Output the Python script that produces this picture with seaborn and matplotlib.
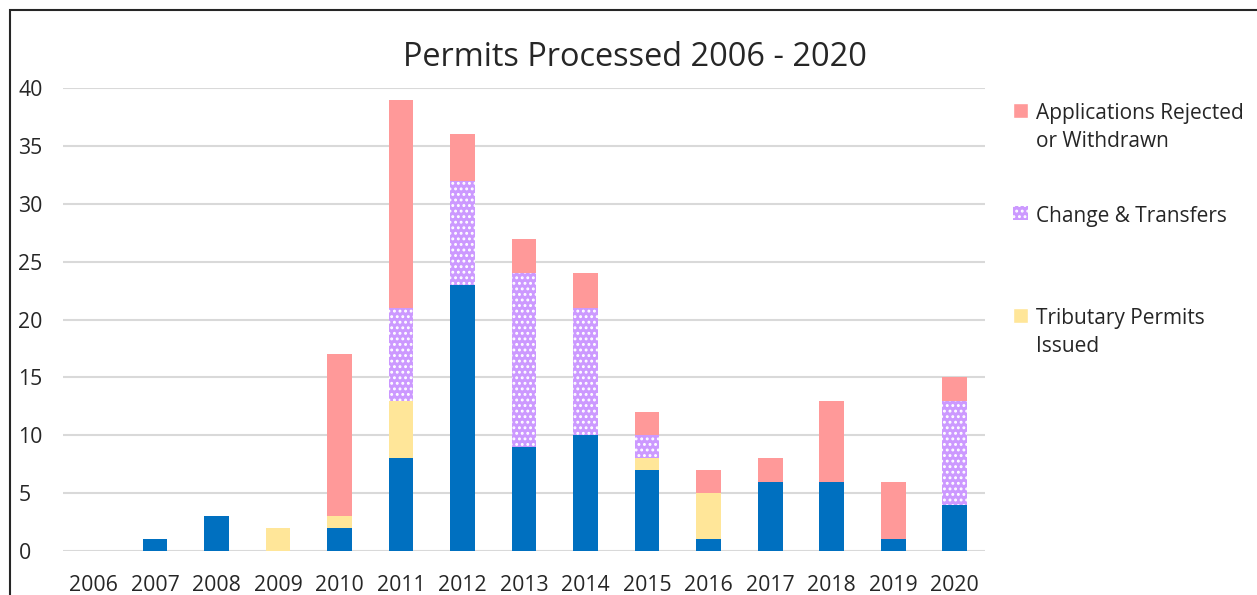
import matplotlib
matplotlib.use("Agg")
import matplotlib.pyplot as plt
import matplotlib.patches as mpatches
import numpy as np
import pandas as pd
import seaborn as sns

years = ["2006", "2007", "2008", "2009", "2010", "2011", "2012", "2013",
         "2014", "2015", "2016", "2017", "2018", "2019", "2020"]
permits_issued = [0, 1, 3, 0, 2, 8, 23, 9, 10, 7, 1, 6, 6, 1, 4]
tributary = [0, 0, 0, 2, 1, 5, 0, 0, 0, 1, 4, 0, 0, 0, 0]
change_transfers = [0, 0, 0, 0, 0, 8, 9, 15, 11, 2, 0, 0, 0, 0, 9]
rejected = [0, 0, 0, 0, 14, 18, 4, 3, 3, 2, 2, 2, 7, 5, 2]

c_blue = "#0070C0"
c_yellow = "#FFE699"
c_purple = "#CC99FF"
c_pink = "#FF9999"
c_text = "#262626"

df = pd.DataFrame({"year": years,
                   "issued": permits_issued,
                   "tributary": tributary,
                   "change": change_transfers,
                   "rejected": rejected})
# cumulative heights, drawn back to front
df["lvl1"] = df["issued"]
df["lvl2"] = df["lvl1"] + df["tributary"]
df["lvl3"] = df["lvl2"] + df["change"]
df["lvl4"] = df["lvl3"] + df["rejected"]

sns.set_style("white")
plt.rcParams["font.family"] = ["Open Sans", "DejaVu Sans"]
plt.rcParams["hatch.linewidth"] = 1.3

fig = plt.figure(figsize=(12.57, 5.95), dpi=100)
ax = fig.add_axes([0.050, 0.074, 0.734, 0.778])

w = 0.4
sns.barplot(data=df, x="year", y="lvl4", order=years, color=c_pink,
            width=w, saturation=1, linewidth=0, ax=ax)
sns.barplot(data=df, x="year", y="lvl3", order=years, color=c_purple,
            width=w, saturation=1, linewidth=0, ax=ax)
for p in ax.patches[len(years):]:
    p.set_hatch("...")
    p.set_edgecolor("white")
    p.set_linewidth(0)
sns.barplot(data=df, x="year", y="lvl2", order=years, color=c_yellow,
            width=w, saturation=1, linewidth=0, ax=ax)
sns.barplot(data=df, x="year", y="lvl1", order=years, color=c_blue,
            width=w, saturation=1, linewidth=0, ax=ax)

ax.set_xlim(-0.5, len(years) - 0.5)
ax.set_ylim(0, 40)
ax.set_yticks(range(0, 41, 5))
ax.yaxis.grid(True, color="#D9D9D9", linewidth=1.5)
ax.set_axisbelow(True)
for s in ax.spines.values():
    s.set_visible(False)
ax.set_xlabel("")
ax.set_ylabel("")
ax.tick_params(axis="both", length=0, labelsize=15.3, colors=c_text)
ax.tick_params(axis="x", pad=17)
ax.tick_params(axis="y", pad=32)
for lab in ax.get_yticklabels():
    lab.set_horizontalalignment("left")

fig.text(0.505, 0.903, "Permits Processed 2006 - 2020", ha="center", va="center",
         fontsize=23.4, color=c_text)

handles = [mpatches.Patch(facecolor=c_pink, label="Applications Rejected\nor Withdrawn"),
           mpatches.Patch(facecolor=c_purple, edgecolor="white", linewidth=0, hatch="...",
                          label="Change & Transfers\n"),
           mpatches.Patch(facecolor=c_yellow, label="Tributary Permits\nIssued")]
leg = fig.legend(handles=handles, loc="upper left", bbox_to_anchor=(0.791, 0.858),
                 frameon=False, fontsize=15, labelspacing=2.6, handlelength=0.7,
                 handleheight=0.7, handletextpad=0.4, labelcolor=c_text)
for t in leg.get_texts():
    t.set_linespacing(1.4)
# put each marker next to the first line of its label
for col in leg._legend_handle_box.get_children():
    for row in col.get_children():
        row.align = "top"

border = mpatches.Rectangle((10 / 1257, -0.1), 1.2, 1.1 - 10 / 595,
                            transform=fig.transFigure, fill=False,
                            edgecolor=c_text, linewidth=1.5, clip_on=False)
fig.patches.append(border)

fig.savefig("out.png", dpi=100)
